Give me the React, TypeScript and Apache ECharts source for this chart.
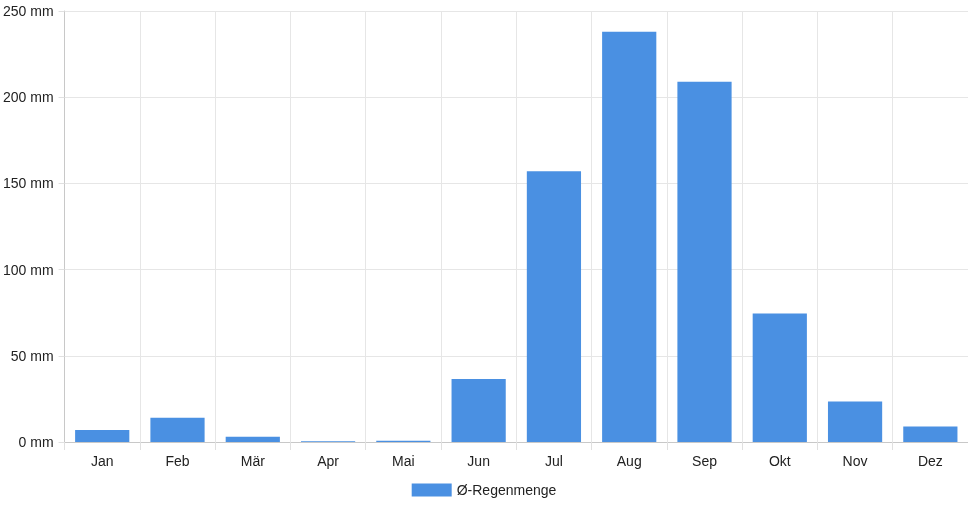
import React, { useEffect, useRef } from "react";
import * as echarts from "echarts";

const months = ["Jan", "Feb", "Mär", "Apr", "Mai", "Jun", "Jul", "Aug", "Sep", "Okt", "Nov", "Dez"];
const rainfall = [7, 14, 3, 0.5, 0.7, 36.5, 157, 238, 209, 74.5, 23.5, 9];
const seriesName = "Ø-Regenmenge";

export default function App() {
  const ref = useRef<HTMLDivElement>(null);
  useEffect(() => {
    if (!ref.current) return;
    const chart = echarts.init(ref.current, undefined, { renderer: "svg" });
    const font = "'Liberation Sans', Arial, Helvetica, sans-serif";
    chart.setOption({
      animation: false,
      textStyle: { fontFamily: font },
      grid: { left: 64, right: 0, top: 11, bottom: 66, containLabel: false },
      legend: {
        bottom: 6,
        left: "center",
        itemWidth: 40,
        itemHeight: 13,
        itemGap: 10,
        icon: "rect",
        textStyle: { color: "#222", fontSize: 14, fontFamily: font },
        data: [seriesName],
      },
      xAxis: {
        type: "category",
        data: months,
        boundaryGap: true,
        axisLine: { lineStyle: { color: "#c8c8c8" } },
        axisTick: { show: true, length: 8, alignWithLabel: false, lineStyle: { color: "#e0e0e0" } },
        axisLabel: { color: "#222", fontSize: 14, margin: 12, fontFamily: font },
        splitLine: { show: true, lineStyle: { color: "#e6e6e6" } },
      },
      yAxis: {
        type: "value",
        min: 0,
        max: 250,
        interval: 50,
        axisLine: { show: true, lineStyle: { color: "#c8c8c8" } },
        axisTick: { show: true, length: 6, lineStyle: { color: "#e0e0e0" } },
        axisLabel: { color: "#222", fontSize: 14, margin: 11, fontFamily: font, formatter: (v: number) => `${v} mm` },
        splitLine: { show: true, lineStyle: { color: "#e6e6e6" } },
      },
      series: [
        {
          name: seriesName,
          type: "bar",
          data: rainfall,
          barCategoryGap: "28%",
          itemStyle: { color: "#4a90e2" },
        },
      ],
    });
    return () => chart.dispose();
  }, []);
  return (
    <div
      ref={ref}
      style={{ position: "fixed", left: 0, top: 0, width: 968, height: 508 }}
    />
  );
}
